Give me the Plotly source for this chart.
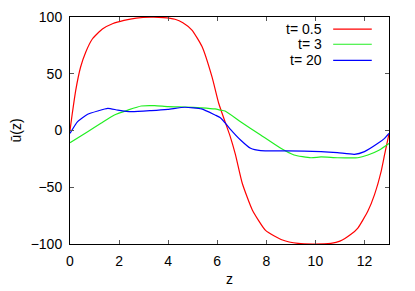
import plotly.graph_objects as go

# ---- data ----
z_red = [0, 0.09, 0.23, 0.43, 0.64, 0.91, 1.32, 1.73, 2.2, 2.7, 3.3, 3.8, 4.28, 4.6, 4.97,
         5.38, 5.79, 6.06, 6.33, 6.54, 6.74, 7.02, 7.43, 7.97, 8.66, 9.3, 9.95, 10.63, 11.0,
         11.45, 11.73, 12.14, 12.41, 12.68, 12.82, 13.0]
u_red = [0, 14.5, 35, 55.7, 69, 80.6, 89.4, 94, 97, 99, 99.8, 99.5, 98, 95, 88.5,
         74, 47, 24, 7, -6, -21, -46.5, -70, -88, -96.5, -99.5, -100, -99.4, -97.5,
         -91.5, -86, -71, -56.5, -36, -21.3, -3]

z_green = [0, 0.72, 1.26, 1.81, 2.36, 2.9, 3.45, 4.0, 4.68, 5.36, 5.91, 6.13, 6.32, 6.95,
           7.77, 8.59, 9.13, 9.82, 10.23, 10.9, 11.73, 12.14, 12.61, 13.0]
u_green = [-10.7, -1, 6.3, 13.7, 18, 21.6, 21.9, 21, 20.7, 20, 19, 18, 17.2, 7.8,
           -4, -15.7, -21.6, -24, -23.3, -24, -24, -21.6, -17.2, -11.5]

z_blue = [0, 0.31, 0.72, 1.13, 1.54, 1.95, 2.49, 3.31, 3.99, 4.68, 5.36, 5.91, 6.13, 6.39,
          6.54, 6.95, 7.36, 7.77, 8.86, 10.23, 10.9, 11.59, 12.0, 12.55, 12.82, 13.0]
u_blue = [-2.5, 7.8, 14.3, 17.2, 19.5, 18, 16.6, 17.5, 18.6, 20.5, 19, 13.7, 11.3, 5,
          1, -8.4, -15.7, -17.8, -18, -18.6, -19.5, -21, -18.6, -11.3, -6.9, -2.5]

series_names = ["t= 0.5", "t= 3", "t= 20"]
series_colors = ["#ff0000", "#22ee22", "#0000ff"]
x_ticks = [0, 2, 4, 6, 8, 10, 12]
y_ticks = [-100, -50, 0, 50, 100]

FONT = "Liberation Sans, Arial, sans-serif"

fig = go.Figure()
for zs, us, name, col in zip([z_red, z_green, z_blue], [u_red, u_green, u_blue],
                             series_names, series_colors):
    fig.add_trace(go.Scatter(x=zs, y=us, mode="lines", name=name,
                             line=dict(color=col, width=1.2, shape="spline", smoothing=0.5),
                             showlegend=False))

# gnuplot-style legend: right-aligned text followed by line sample
leg_y = [0.947, 0.880, 0.809]
for name, col, yy in zip(series_names, series_colors, leg_y):
    fig.add_annotation(x=0.797, y=yy, xref="paper", yref="paper", text=name,
                       showarrow=False, xanchor="right", yanchor="middle",
                       font=dict(family=FONT, size=14, color="black"))
    fig.add_shape(type="line", xref="paper", yref="paper", x0=0.825, x1=0.946,
                  y0=yy, y1=yy, line=dict(color=col, width=1.2))

axis_common = dict(showline=True, linecolor="black", linewidth=1, mirror="allticks",
                   ticks="inside", ticklen=4, tickcolor="#555", showgrid=False,
                   zeroline=False, automargin=False,
                   tickfont=dict(family=FONT, size=14, color="black"))

fig.update_xaxes(range=[0, 13], tickvals=x_ticks,
                 title=dict(text="z", font=dict(family=FONT, size=14, color="black"), standoff=6),
                 ticklabelstandoff=4, **axis_common)
fig.update_yaxes(range=[-100, 100], tickvals=y_ticks,
                 title=dict(text="ū(z)", font=dict(family=FONT, size=14, color="black"), standoff=10),
                 ticklabelstandoff=4, **axis_common)

# page has an 8px body margin: size/margins compensate so plot area sits where the reference's does
fig.update_layout(width=407, height=283, margin=dict(l=62, r=26, t=9, b=47),
                  paper_bgcolor="white", plot_bgcolor="white",
                  font=dict(family=FONT, size=14, color="black"))

fig.write_html("out.html")
